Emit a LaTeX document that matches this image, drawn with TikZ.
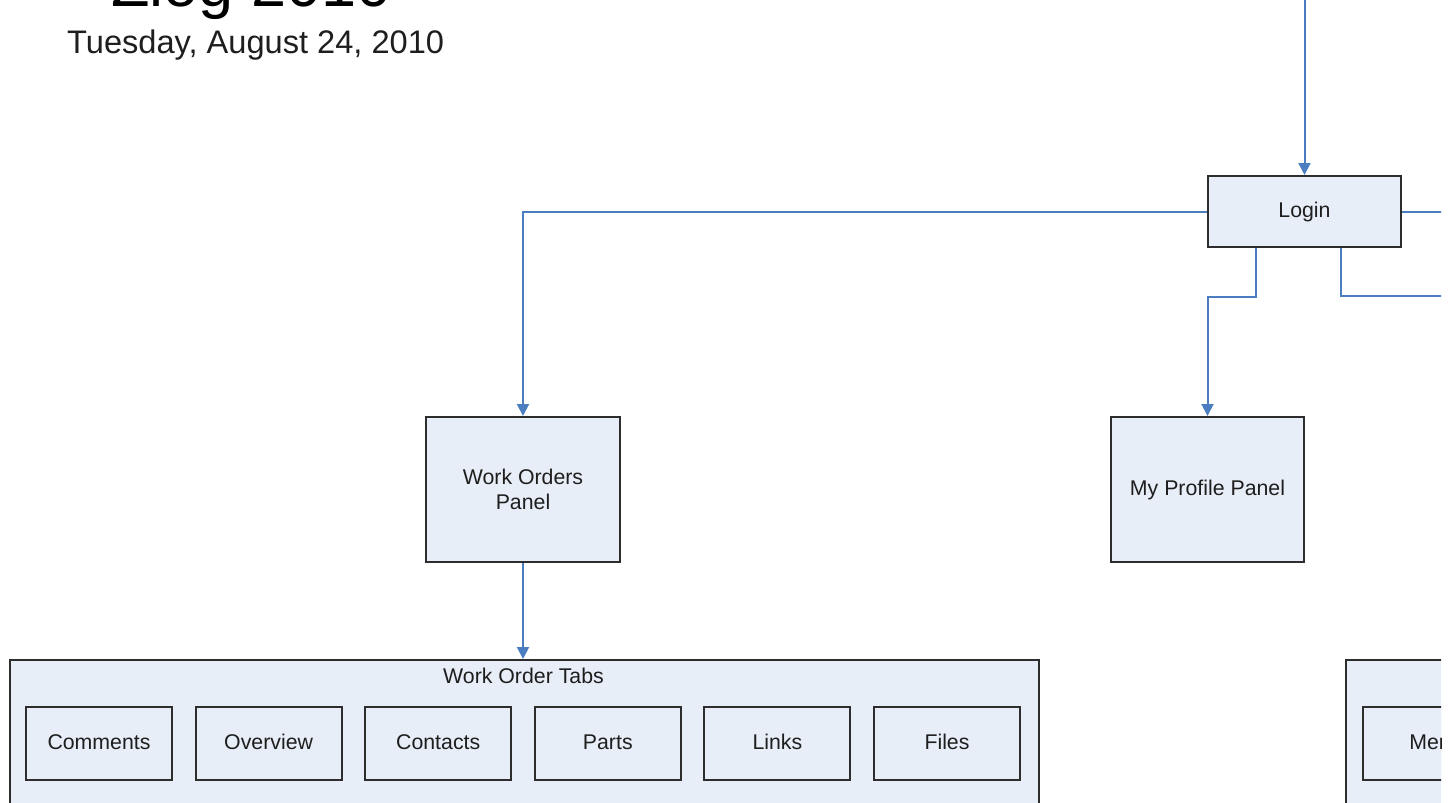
\documentclass[tikz,border=0pt]{standalone}
\usepackage{fontspec}
\setmainfont{Liberation Sans}
\usetikzlibrary{arrows.meta}
\definecolor{conn}{RGB}{74,126,193}
\definecolor{boxfill}{RGB}{232,238,247}
\definecolor{boxline}{RGB}{45,45,45}
\definecolor{txt}{RGB}{30,30,30}

\begin{document}
\begin{tikzpicture}[x=1pt, y=-1pt, >={Triangle[width=12pt,length=12pt]},
    box/.style={draw=boxline, fill=boxfill, line width=2pt, text=txt, align=center,
        font=\fontsize{21.3}{25}\selectfont, inner sep=0pt},
    tab/.style={box, minimum width=146pt, minimum height=73pt, text height=15.5pt, text depth=4.5pt},
    link/.style={draw=conn, line width=2pt}]

    \useasboundingbox (0,0) rectangle (1452,803);
    \clip (0,0) rectangle (1441,803);

    % heading
    \node[anchor=base west, inner sep=0pt, font=\fontsize{63}{66}\selectfont] (title) at (111,6) {Zlog 2010};
    \node[anchor=base west, inner sep=0pt, text=txt, font=\fontsize{32.6}{36}\selectfont] (date) at (67,53) {Tuesday, August 24, 2010};

	% panels
    \node[box, minimum width=193pt, minimum height=71pt] (login) at (1304.5,211.5) {Login};
    \node[box, minimum width=194pt, minimum height=145pt] (wop) at (523,489.5) {Work Orders\\Panel};
    \node[box, minimum width=193pt, minimum height=145pt] (mpp) at (1207.5,489.5) {My Profile Panel};

    % tab groups
    \node[box, minimum width=1029pt, minimum height=170pt, anchor=north west] (tabs) at (9,659) {};
    \node[anchor=center, inner sep=0pt, text=txt, font=\fontsize{21.3}{25}\selectfont] (tabsLbl) at (523.5,676) {Work Order Tabs};
    \node[box, minimum width=300pt, minimum height=170pt, anchor=north west] (menuGrp) at (1345,659) {};

    \foreach \n/\t [count=\i from 0] in {cmt/Comments, ovw/Overview, cnt/Contacts, prt/Parts, lnk/Links, fls/Files}
        \node[tab] (\n) at (99+169.6*\i,743.5) {\t};
    \node[tab] (menu) at (1436,743.5) {Menu};

    % connectors
    \coordinate (topIn) at (1304.5,-5);
    \coordinate (offR) at (1460,211.5);
    \coordinate (offR2) at (1460,296);
    \draw[link,->] (topIn) -- (login.north);
    \draw[link,->] (login.west) -| (wop.north);
    \draw[link] (login.east) -- (offR);
    \draw[link,->] ([xshift=-48.5pt]login.south) -- ++(0,49) -| (mpp.north);
    \draw[link] ([xshift=36pt]login.south) |- (offR2);
    \draw[link,->] (wop.south) -- (wop.south |- tabs.north);

\end{tikzpicture}
\end{document}
